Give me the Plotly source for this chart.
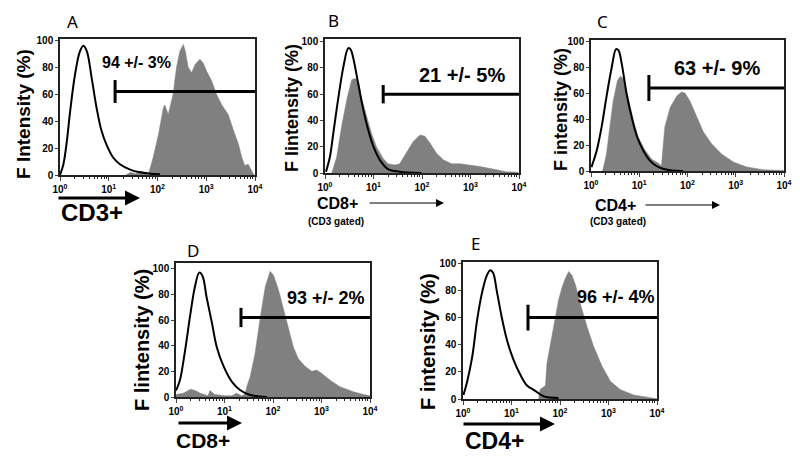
import numpy as np
import plotly.graph_objects as go

# the page has an 8px body margin, so the figure is drawn 8px smaller and shifted
OFF = 8
W, H = 800 - OFF, 458 - OFF

# x values are read as log10(fluorescence), y as % of max
# A: CD3+
a_ctrl_x = [0.0, 0.07, 0.14, 0.21, 0.31, 0.41, 0.48, 0.55, 0.65, 0.75, 0.85, 0.96, 1.09, 1.23, 1.44, 1.64, 1.85, 2.05]
a_ctrl_y = [0, 8, 25, 48, 75, 92, 96, 92, 72, 50, 33, 22, 13, 8, 4, 2, 1, 0.5]
a_pos_x = [1.35, 1.45, 1.55, 1.65, 1.75, 1.81, 1.91, 2.02, 2.12, 2.15, 2.22, 2.32, 2.39, 2.46, 2.53, 2.57, 2.63,
           2.70, 2.77, 2.87, 2.94, 3.01, 3.11, 3.21, 3.32, 3.45, 3.56, 3.66, 3.73, 3.79, 3.86, 3.93, 3.98]
a_pos_y = [0, 2, 1, 3, 1, 0, 13, 30, 50, 52, 45, 60, 80, 92, 97, 92, 80,
           76, 82, 86, 83, 77, 70, 60, 52, 45, 33, 23, 13, 7, 8, 3, 0]

# B: CD8+ (CD3 gated)
b_ctrl_x = [0.02, 0.1, 0.17, 0.27, 0.38, 0.48, 0.53, 0.58, 0.69, 0.79, 0.89, 1.0, 1.13, 1.3, 1.54, 1.99]
b_ctrl_y = [1, 12, 30, 56, 81, 95, 94, 88, 67, 48, 33, 20, 10, 3, 1, 0]
b_pos_x = [0.14, 0.24, 0.34, 0.45, 0.55, 0.62, 0.69, 0.75, 0.86, 0.96, 1.06, 1.2, 1.3, 1.44, 1.54, 1.68, 1.82,
           1.96, 2.06, 2.16, 2.3, 2.44, 2.61, 2.78, 2.98, 3.19, 3.46, 3.74, 3.98]
b_pos_y = [0, 12, 35, 56, 71, 72, 70, 58, 43, 30, 20, 11, 7, 6, 7, 15, 24,
           29, 28, 23, 15, 10, 7, 7, 6, 5, 3, 1, 0.5]

# C: CD4+ (CD3 gated)
c_ctrl_x = [0.01, 0.12, 0.22, 0.32, 0.43, 0.52, 0.57, 0.64, 0.74, 0.84, 0.95, 1.08, 1.22, 1.4, 1.64, 1.91]
c_ctrl_y = [3, 16, 34, 57, 80, 94, 93, 82, 59, 42, 27, 16, 8, 3, 0.5, 0]
c_pos_x = [0.24, 0.32, 0.39, 0.46, 0.55, 0.61, 0.68, 0.77, 0.88, 0.98, 1.12, 1.26, 1.4, 1.46, 1.49, 1.53, 1.64,
           1.78, 1.88, 1.95, 2.05, 2.19, 2.33, 2.5, 2.71, 2.95, 3.23, 3.57, 3.99]
c_pos_y = [0, 13, 34, 54, 70, 73, 71, 57, 39, 26, 16, 9, 6, 4, 18, 34, 49,
           58, 61, 60, 54, 42, 30, 21, 13, 7, 3, 1, 0.3]

# D: CD8+
d_ctrl_x = [0.0, 0.08, 0.19, 0.29, 0.39, 0.48, 0.55, 0.63, 0.74, 0.84, 0.98, 1.15, 1.32, 1.53, 1.87]
d_ctrl_y = [5, 13, 37, 63, 86, 97, 94, 78, 58, 39, 24, 12, 5.5, 1.6, 0]
d_pos_x = [0.0, 0.15, 0.3, 0.4, 0.5, 0.6, 0.66, 0.7, 0.8, 1.0, 1.15, 1.25, 1.35, 1.42, 1.46, 1.53, 1.63,
           1.73, 1.84, 1.94, 2.01, 2.11, 2.21, 2.32, 2.42, 2.52, 2.66, 2.8, 2.9, 3.0, 3.18, 3.38, 3.66, 3.87, 4.0]
d_pos_y = [2, 3, 6, 5, 3, 2, 1, 5, 2, 1, 1, 3, 1, 2, 8, 16, 34,
           60, 86, 98, 95, 84, 70, 55, 39, 30, 24, 20, 21, 18.5, 13, 8, 4, 2, 1]

# E: CD4+
e_ctrl_x = [0.01, 0.08, 0.19, 0.29, 0.39, 0.49, 0.56, 0.62, 0.7, 0.8, 0.91, 1.04, 1.18, 1.32, 1.49, 1.66, 1.97]
e_ctrl_y = [3, 12, 31, 58, 78, 91, 95, 93, 79, 60, 43, 29, 18, 10, 6, 2, 0.7]
e_pos_x = [1.56, 1.59, 1.7, 1.73, 1.77, 1.84, 1.9, 1.97, 2.04, 2.11, 2.18, 2.25, 2.32, 2.42, 2.56, 2.69, 2.87,
           3.04, 3.24, 3.52, 3.86, 4.0]
e_pos_y = [0, 7, 10, 26, 34, 48, 60, 73, 82, 89, 94, 91, 84, 70, 53, 39, 24,
           13, 7, 3, 1, 0.2]

ctrl_x = [a_ctrl_x, b_ctrl_x, c_ctrl_x, d_ctrl_x, e_ctrl_x]
ctrl_y = [a_ctrl_y, b_ctrl_y, c_ctrl_y, d_ctrl_y, e_ctrl_y]
pos_x = [a_pos_x, b_pos_x, c_pos_x, d_pos_x, e_pos_x]
pos_y = [a_pos_y, b_pos_y, c_pos_y, d_pos_y, e_pos_y]

gate_log = [1.13, 1.2, 1.2, 1.34, 1.34]
gate_level = [62, 60, 64, 62, 60]
gate_half = [8.5, 7, 10, 7.5, 9.5]
gate_text = ["94 +/- 3%", "21 +/- 5%", "63 +/- 9%", "93 +/- 2%", "96 +/- 4%"]
letters = ["A", "B", "C", "D", "E"]
y_titles = ["F Intensity (%)", "F lintensity (%)", "F intensity (%)", "F lintensity (%)", "F intensity (%)"]
x_titles = ["CD3+", "CD8+", "CD4+", "CD8+", "CD4+"]
y_ticks = [0, 20, 40, 60, 80, 100]
x_ticks = [1, 10, 100, 1000, 10000]
x_ticktext = ["10<sup>0</sup>", "10<sup>1</sup>", "10<sup>2</sup>", "10<sup>3</sup>", "10<sup>4</sup>"]

# layout in page pixels: plot box (x0, x1, ytop, ybottom), y max, letter pos, ytitle pos, text pos
boxes = [(60, 255, 39, 175), (325, 519, 39, 173), (591, 784, 40, 171), (176, 370, 263, 397), (463, 657, 262, 399)]
ymax = [101, 102, 101, 104.5, 101]
letter_pos = [(72, 22), (333, 21), (602, 22), (193, 250), (475, 243)]
ytitle_pos = [(24, 114), (292, 108), (561, 110), (142, 340), (428, 342)]
ytitle_size = [19, 18, 18, 20, 20]
gtext_pos = [(136, 62), (462, 75), (717, 68), (326, 298), (616, 297)]
gtext_size = [16, 20, 20, 18, 18]

FONT = "Liberation Sans"


def px(x):
    return (x - OFF) / W


def py(y):
    return 1 - (y - OFF) / H


def note(x, y, text, size, family=FONT, bold=True, angle=0):
    return dict(x=px(x), y=py(y), xref="paper", yref="paper", xanchor="center", yanchor="middle",
                text=text, showarrow=False, textangle=angle,
                font=dict(family=family, size=size, color="black", weight="bold" if bold else "normal"))


fig = go.Figure()
minor_vals = [k * 10 ** n for n in range(4) for k in range(2, 10)]
annotations = []

for i in range(5):
    xa = "x" if i == 0 else f"x{i + 1}"
    ya = "y" if i == 0 else f"y{i + 1}"
    px_ = np.power(10.0, pos_x[i])
    cx_ = np.power(10.0, ctrl_x[i])
    fig.add_trace(go.Scatter(x=px_, y=pos_y[i], mode="lines", fill="tozeroy",
                             fillcolor="#808080", line=dict(color="#808080", width=0.5),
                             xaxis=xa, yaxis=ya, showlegend=False))
    fig.add_trace(go.Scatter(x=cx_, y=ctrl_y[i], mode="lines", line=dict(color="black", width=2, shape="spline"),
                             xaxis=xa, yaxis=ya, showlegend=False))
    g = 10 ** gate_log[i]
    fig.add_trace(go.Scatter(x=[g, g, None, g, 10000],
                             y=[gate_level[i] - gate_half[i], gate_level[i] + gate_half[i], None,
                                gate_level[i], gate_level[i]],
                             mode="lines", line=dict(color="black", width=3),
                             xaxis=xa, yaxis=ya, showlegend=False))

    x0, x1, yt, yb = boxes[i]
    key = "" if i == 0 else str(i + 1)
    fig.update_layout(**{
        "xaxis" + key: dict(type="log", range=[0, 4], domain=[px(x0), px(x1)], anchor=ya,
                            tickvals=x_ticks, ticktext=x_ticktext, ticks="outside", ticklen=4,
                            tickfont=dict(family=FONT, size=10, color="black", weight="bold"),
                            showline=True, mirror=True, linecolor="#222", linewidth=1.5,
                            showgrid=False, zeroline=False, automargin=False,
                            minor=dict(tickvals=minor_vals, ticks="outside", ticklen=2, tickcolor="#222")),
        "yaxis" + key: dict(range=[0, ymax[i]], domain=[py(yb), py(yt)], anchor=xa,
                            tickvals=y_ticks, ticks="outside", ticklen=3,
                            tickfont=dict(family=FONT, size=10, color="black", weight="bold"),
                            showline=True, mirror=True, linecolor="#222", linewidth=1.5,
                            showgrid=False, zeroline=False, automargin=False),
    })

    lx, ly = letter_pos[i]
    annotations.append(note(lx, ly, letters[i], 17, family="Noto Sans", bold=False))
    tx, ty = ytitle_pos[i]
    annotations.append(note(tx, ty, y_titles[i], ytitle_size[i], angle=-90))
    gx, gy = gtext_pos[i]
    annotations.append(note(gx, gy, gate_text[i], gtext_size[i]))

# x titles and arrows
big_titles = [(0, 92, 213, 24), (3, 203, 440, 21), (4, 494, 441, 23)]
for i, cx, cy, size in big_titles:
    annotations.append(note(cx, cy, x_titles[i], size))
small_titles = [(1, 337, 203, 336, 221), (2, 615, 205, 618, 222)]
for i, cx, cy, gx, gy in small_titles:
    annotations.append(note(cx, cy, x_titles[i], 16))
    annotations.append(note(gx, gy, "(CD3 gated)", 10))

# arrows: (x_start, x_end, y, width)
arrows = [(57, 140, 198, 3), (368, 444, 203, 1), (644, 720, 205, 1), (177, 242, 423, 3), (462, 555, 424, 3)]
for xs, xe, yy, w in arrows:
    annotations.append(dict(x=px(xe), y=py(yy), ax=xs - xe, ay=0, text="", showarrow=True,
                            arrowhead=2, arrowsize=1.0 if w > 1 else 1.6, arrowwidth=w, arrowcolor="black",
                            xref="paper", yref="paper"))

fig.update_layout(width=W, height=H, margin=dict(l=0, r=0, t=0, b=0),
                  plot_bgcolor="white", paper_bgcolor="white", annotations=annotations)

fig.write_html("out.html")
